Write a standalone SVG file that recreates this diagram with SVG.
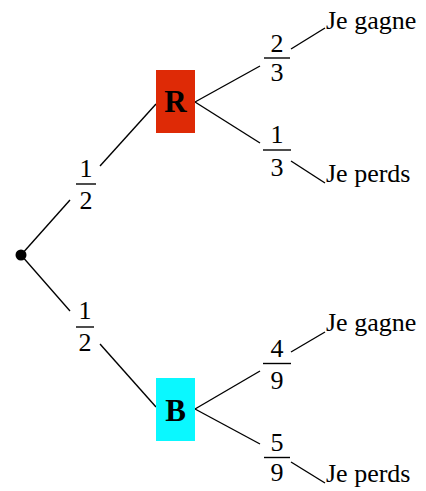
<svg xmlns="http://www.w3.org/2000/svg" width="426" height="491" viewBox="0 0 426 491">
<style>
.t{font-family:"Liberation Serif","Times New Roman",serif;font-size:26px;fill:#000}
.f{font-family:"Liberation Serif","Times New Roman",serif;font-size:26px;fill:#000;text-anchor:middle}
.n{font-family:"Liberation Serif","Times New Roman",serif;font-size:31px;font-weight:bold;fill:#000;text-anchor:middle}
.c line{stroke:#000;stroke-width:1.4;fill:none}
.bar{stroke:#000;stroke-width:1.4}
</style>
<rect width="426" height="491" fill="#fff"/>
<g id="connectors" class="c">
<line x1="21" y1="255" x2="70" y2="200"/>
<line x1="100" y1="166" x2="156" y2="104"/>
<line x1="21" y1="255" x2="70" y2="311"/>
<line x1="100" y1="344" x2="156" y2="407"/>
<line x1="195" y1="102" x2="260" y2="66"/>
<line x1="291" y1="49" x2="325" y2="28"/>
<line x1="195" y1="102" x2="260" y2="143"/>
<line x1="291" y1="161" x2="325" y2="183"/>
<line x1="195" y1="409" x2="260" y2="371"/>
<line x1="291" y1="352" x2="325" y2="332"/>
<line x1="195" y1="409" x2="260" y2="444"/>
<line x1="291" y1="462" x2="325" y2="483"/>
</g>
<g id="root"><circle cx="21" cy="255" r="5.5" fill="#000"/></g>
<g id="nodeR">
<rect x="156" y="70" width="39" height="63" fill="#de2a06"/>
<text class="n" x="175.5" y="112">R</text>
</g>
<g id="nodeB">
<rect x="156" y="378" width="39" height="63" fill="#0af8ff"/>
<text class="n" x="175.5" y="421">B</text>
</g>
<g id="p1">
<text class="f" x="86" y="177">1</text>
<line class="bar" x1="76" y1="184" x2="96" y2="184"/>
<text class="f" x="86" y="209">2</text>
</g>
<g id="p2">
<text class="f" x="85" y="319">1</text>
<line class="bar" x1="76" y1="327" x2="94" y2="327"/>
<text class="f" x="85" y="351">2</text>
</g>
<g id="p3">
<text class="f" x="277" y="52">2</text>
<line class="bar" x1="264" y1="58" x2="290" y2="58"/>
<text class="f" x="277" y="81">3</text>
</g>
<g id="p4">
<text class="f" x="277" y="143">1</text>
<line class="bar" x1="263" y1="150" x2="291" y2="150"/>
<text class="f" x="277" y="176">3</text>
</g>
<g id="p5">
<text class="f" x="277" y="357">4</text>
<line class="bar" x1="263" y1="363.5" x2="291" y2="363.5"/>
<text class="f" x="277" y="389">9</text>
</g>
<g id="p6">
<text class="f" x="277" y="451">5</text>
<line class="bar" x1="264" y1="457.5" x2="290" y2="457.5"/>
<text class="f" x="277" y="481">9</text>
</g>
<g id="o1"><text class="t" x="326" y="29">Je gagne</text></g>
<g id="o2"><text class="t" x="326" y="182">Je perds</text></g>
<g id="o3"><text class="t" x="326" y="331">Je gagne</text></g>
<g id="o4"><text class="t" x="326" y="482">Je perds</text></g>
</svg>
